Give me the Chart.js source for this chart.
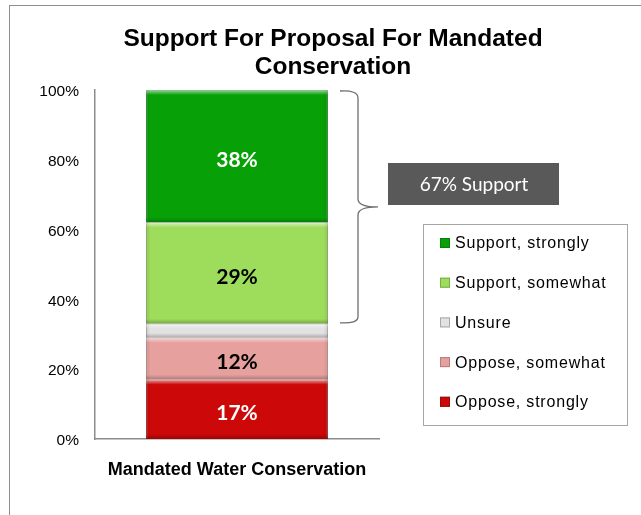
<!DOCTYPE html>
<html>
<head>
<meta charset="utf-8">
<script src="https://cdn.jsdelivr.net/npm/chart.js@4.4.1/dist/chart.umd.min.js"></script>
<style>
  html, body { margin: 0; padding: 0; background: #fff; overflow: hidden; }
  #wrap { position: relative; width: 641px; height: 515px; }
  #frame { position: absolute; left: 9px; top: 5px; width: 700px; height: 600px;
           border: 1px solid #8e8e8e; box-sizing: border-box; }
  canvas { position: absolute; left: 0; top: 0; }
</style>
</head>
<body>
<div id="wrap"><div id="frame"></div><canvas id="c" width="641" height="515"></canvas></div>
<script>
/* ---------- data ---------- */
const categories   = ['Mandated Water Conservation'];
const seriesNames  = ['Oppose, strongly', 'Oppose, somewhat', 'Unsure', 'Support, somewhat', 'Support, strongly'];
const seriesValues = [17, 12, 4, 29, 38];
const yTicks       = [0, 20, 40, 60, 80, 100];
const titleLines   = ['Support For Proposal For Mandated', 'Conservation'];
const supportText  = '67% Support';

/* ---------- styles ---------- */
const fillColors   = ['#cc0808', '#e6a09e', '#e2e2e2', '#9edc5c', '#07a007'];
const edgeColors   = ['#9a0a0a', '#b87c7a', '#a8a8a8', '#78ad45', '#05800a'];
const labelColors  = ['#ffffff', '#000000', null, '#000000', '#ffffff'];
const AX = '#8c8c8c';
const SANS = '"Liberation Sans", Arial, sans-serif';

/* bevel look on each segment */
const bevel = {
  id: 'bevel',
  afterDatasetsDraw(chart) {
    const ctx = chart.ctx;
    chart.data.datasets.forEach((ds, i) => {
      chart.getDatasetMeta(i).data.forEach(el => {
        const p = el.getProps(['x', 'y', 'base', 'width'], true);
        const l = p.x - p.width / 2, t = Math.min(p.y, p.base), h = Math.abs(p.base - p.y);
        const e = Math.min(5, h / 3);
        ctx.save();
        let g = ctx.createLinearGradient(0, t, 0, t + e);
        g.addColorStop(0, 'rgba(255,255,255,0.6)');
        g.addColorStop(1, 'rgba(255,255,255,0)');
        ctx.fillStyle = g; ctx.fillRect(l, t, p.width, e);
        g = ctx.createLinearGradient(0, t + h - e, 0, t + h);
        g.addColorStop(0, 'rgba(0,0,0,0)');
        g.addColorStop(1, 'rgba(0,0,0,0.25)');
        ctx.fillStyle = g; ctx.fillRect(l, t + h - e, p.width, e);
        g = ctx.createLinearGradient(l, 0, l + 4, 0);
        g.addColorStop(0, 'rgba(0,0,0,0.12)'); g.addColorStop(1, 'rgba(0,0,0,0)');
        ctx.fillStyle = g; ctx.fillRect(l, t, 4, h);
        g = ctx.createLinearGradient(l + p.width - 4, 0, l + p.width, 0);
        g.addColorStop(0, 'rgba(0,0,0,0)'); g.addColorStop(1, 'rgba(0,0,0,0.12)');
        ctx.fillStyle = g; ctx.fillRect(l + p.width - 4, t, 4, h);
        ctx.restore();
      });
    });
  }
};

/* percentages inside the bar */
const valueLabels = {
  id: 'valueLabels',
  afterDatasetsDraw(chart) {
    const ctx = chart.ctx;
    ctx.save();
    ctx.font = 'bold 21px Lato, "Open Sans", sans-serif';
    ctx.textAlign = 'center'; ctx.textBaseline = 'middle';
    chart.data.datasets.forEach((ds, i) => {
      if (!labelColors[i]) return;
      chart.getDatasetMeta(i).data.forEach((el, j) => {
        const p = el.getProps(['x', 'y', 'base'], true);
        ctx.fillStyle = labelColors[i];
        ctx.fillText(ds.data[j] + '%', p.x, (p.y + p.base) / 2 + 4);
      });
    });
    ctx.restore();
  }
};

/* title, brace, "67% Support" box and legend */
const extras = {
  id: 'extras',
  afterDraw(chart) {
    const ctx = chart.ctx;
    const ys = chart.scales.y;
    ctx.save();

    // title
    ctx.fillStyle = '#000';
    ctx.font = 'bold 24.5px ' + SANS;
    ctx.textAlign = 'center'; ctx.textBaseline = 'middle';
    titleLines.forEach((t, i) => ctx.fillText(t, 333, 39 + i * 28));

    // brace over the support segments
    const supTop = ys.getPixelForValue(100);
    const supBot = ys.getPixelForValue(seriesValues[0] + seriesValues[1] + seriesValues[2]);
    const mid = (supTop + supBot) / 2;
    const bx = 358, x0 = 340, tip = 378;
    ctx.strokeStyle = '#6e6e6e'; ctx.lineWidth = 1.3;
    ctx.beginPath();
    ctx.moveTo(x0, supTop + 1);
    ctx.quadraticCurveTo(bx, supTop, bx, supTop + 8);
    ctx.lineTo(bx, mid - 8);
    ctx.quadraticCurveTo(bx, mid, tip, mid);
    ctx.moveTo(tip, mid);
    ctx.quadraticCurveTo(bx, mid, bx, mid + 8);
    ctx.lineTo(bx, supBot - 7);
    ctx.quadraticCurveTo(bx, supBot, x0, supBot - 1);
    ctx.stroke();

    // support box
    ctx.fillStyle = '#595959';
    ctx.fillRect(388, 163, 171, 42);
    ctx.fillStyle = '#fff';
    ctx.font = '19px Lato, "Open Sans", sans-serif';
    ctx.fillText(supportText, 474, 185);

    // legend
    ctx.fillStyle = '#fff';
    ctx.fillRect(423.5, 224.5, 204, 201);
    ctx.strokeStyle = '#a6a6a6'; ctx.lineWidth = 1;
    ctx.strokeRect(423.5, 224.5, 204, 201);
    ctx.font = '16px ' + SANS;
    ctx.letterSpacing = '0.8px';
    ctx.textAlign = 'left';
    for (let k = 0; k < seriesNames.length; k++) {
      const i = seriesNames.length - 1 - k;
      const cy = 243 + k * 39.7;
      ctx.fillStyle = fillColors[i];
      ctx.fillRect(440, cy - 5, 10, 10);
      ctx.strokeStyle = edgeColors[i];
      ctx.strokeRect(440.5, cy - 4.5, 9, 9);
      ctx.fillStyle = '#000';
      ctx.fillText(seriesNames[i], 455, cy + 1);
    }
    ctx.restore();
  }
};

new Chart(document.getElementById('c'), {
  type: 'bar',
  data: {
    labels: categories,
    datasets: seriesNames.map((n, i) => ({
      label: n,
      data: [seriesValues[i]],
      backgroundColor: fillColors[i],
      borderColor: edgeColors[i],
      borderWidth: 1,
      barPercentage: 0.64,
      categoryPercentage: 1
    }))
  },
  options: {
    responsive: false,
    devicePixelRatio: 1,
    animation: false,
    layout: { padding: { top: 90, right: 262, left: 0, bottom: 0 } },
    plugins: { legend: { display: false }, title: { display: false }, tooltip: { enabled: false } },
    scales: {
      x: {
        stacked: true,
        grid: { display: false },
        border: { display: true, color: AX, width: 1.5 },
        ticks: { color: '#000', font: { family: SANS, size: 18, weight: 'bold' }, padding: 12 },
        afterFit: s => { s.height = 76; }
      },
      y: {
        stacked: true, min: 0, max: 100,
        grid: { display: false },
        border: { display: true, color: AX, width: 1.5 },
        afterBuildTicks: s => { s.ticks = yTicks.map(v => ({ value: v })); },
        ticks: { color: '#000', font: { family: SANS, size: 15.5 }, padding: 8, labelOffset: 2, callback: v => v + '%' },
        afterFit: s => { s.width = 95; }
      }
    }
  },
  plugins: [bevel, valueLabels, extras]
});
</script>
</body>
</html>
